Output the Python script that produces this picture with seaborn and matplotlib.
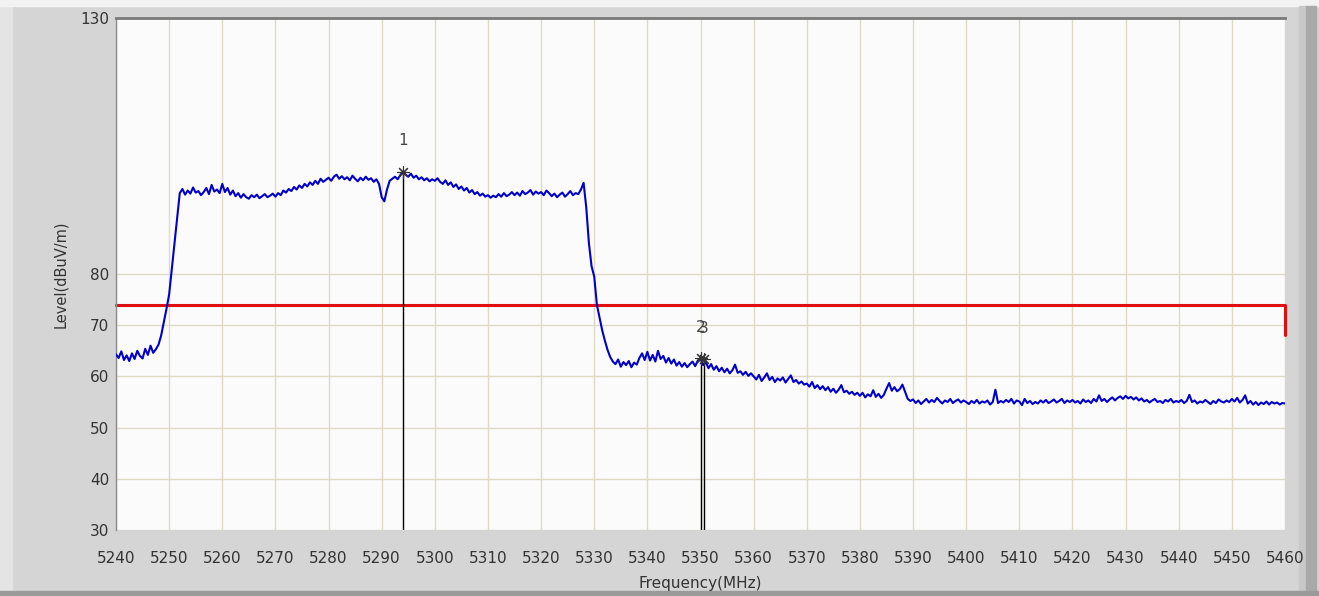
import numpy as np
import pandas as pd
import matplotlib.pyplot as plt
from matplotlib.patches import Rectangle
import seaborn as sns

# sweep: 5240 .. 5460 MHz, one reading every 0.5 MHz
freq_start = 5240.0
freq_step = 0.5

level = [
    # 5240 - 5249.5
    64.3, 63.6, 64.9, 63.2, 64.1, 63.0, 64.5, 63.4, 65.0, 64.0, 63.5, 65.4, 64.2, 66.0, 64.6, 65.3, 66.2, 68.0, 70.6, 73.2,
    # 5250 - 5259.5
    76.0, 81.0, 86.0, 91.0, 95.8, 96.6, 95.5, 96.3, 95.7, 96.9, 95.9, 96.2, 95.4, 96.0, 96.8, 95.6, 97.4, 96.1, 96.5, 95.8,
    # 5260 - 5269.5
    97.6, 96.0, 96.8, 95.5, 96.3, 95.2, 95.8, 94.9, 95.6, 95.0, 94.7, 95.4, 95.0, 95.5, 94.8, 95.2, 95.6, 95.0, 95.3, 95.7,
    # 5270 - 5279.5
    95.1, 95.8, 95.4, 96.3, 95.9, 96.6, 96.2, 97.0, 96.5, 97.3, 96.8, 97.6, 97.1, 97.9, 97.4, 98.2, 97.6, 98.6, 98.0, 98.4,
    # 5280 - 5289.5
    98.8, 98.2, 99.0, 99.4, 98.6, 99.1, 98.5, 98.9, 98.3, 99.2, 98.6, 98.1, 98.8, 98.3, 99.0, 98.4, 98.7, 98.0, 98.5, 97.6,
    # 5290 - 5299.5
    95.0, 94.2, 96.5, 98.2, 98.6, 99.0, 98.5, 99.3, 100.0, 99.4, 99.0, 99.6, 98.8, 99.2, 98.5, 98.9, 98.3, 98.7, 98.1, 98.5,
    # 5300 - 5309.5
    98.2, 98.7, 98.0, 97.6, 98.3, 97.4, 97.9, 97.0, 97.5, 96.6, 97.1, 96.3, 96.8, 95.9, 96.4, 95.6, 96.0, 95.3, 95.7, 95.1,
    # 5310 - 5319.5
    95.4, 94.9, 95.3, 95.0, 95.6, 95.1, 95.8, 95.2, 95.5, 96.0, 95.4, 95.9, 95.3, 96.2, 95.6, 95.9, 96.4, 95.5, 96.1, 95.7,
    # 5320 - 5329.5
    96.0, 95.4, 96.3, 95.8, 95.2, 95.7, 95.0, 95.5, 95.9, 95.1, 95.6, 96.2, 95.4, 95.8, 95.6, 96.5, 97.8, 93.0, 86.0, 81.5,
    # 5330 - 5339.5
    79.5, 74.0, 71.5, 69.0, 67.0, 65.2, 63.8, 62.9, 62.4, 63.3, 61.9, 62.8, 62.2, 63.0, 61.8, 62.7, 62.3, 63.6, 64.5, 63.2,
    # 5340 - 5349.5
    64.8, 63.1, 64.2, 62.9, 65.0, 63.4, 64.0, 62.7, 63.6, 62.5, 63.3, 62.1, 62.8, 61.9, 62.6, 61.8, 62.4, 62.9, 62.0, 63.1,
    # 5350 - 5359.5
    63.6, 62.2, 62.8, 61.6, 62.4, 61.3, 62.0, 61.0, 61.7, 60.8, 61.5, 60.6, 61.2, 62.3, 60.7, 61.0, 60.3, 60.9, 60.1, 60.6,
    # 5360 - 5369.5
    60.0, 59.4, 60.3, 59.1, 59.8, 60.6, 59.3, 59.9, 58.9, 59.6, 59.2, 59.8, 58.8, 59.5, 60.2, 58.9, 59.3, 58.6, 59.0, 58.4,
    # 5370 - 5379.5
    58.6, 58.0, 58.9, 57.7, 58.3, 57.5, 58.1, 57.3, 57.9, 57.0, 57.6, 56.8, 57.4, 58.3, 56.9, 57.2, 56.6, 57.0, 56.4, 56.8,
    # 5380 - 5389.5
    56.2, 56.8, 55.9, 56.5, 56.1, 57.3, 56.0, 56.6, 55.8, 56.4, 57.6, 58.7, 57.2, 57.9, 57.1, 57.5, 58.4, 57.0, 55.6, 55.2,
    # 5390 - 5399.5
    55.5, 54.8, 55.3, 54.6, 55.1, 55.6, 54.9, 55.4, 55.0, 55.8, 55.2, 54.7, 55.3, 55.0, 55.6, 54.8, 55.2, 55.5, 54.9, 55.3,
    # 5400 - 5409.5
    55.0, 54.6, 55.2, 54.8, 55.4, 54.7, 55.1, 54.9, 55.3, 54.5, 55.0, 57.4, 54.8, 55.2, 54.9, 55.4, 55.0, 55.6, 54.7, 55.3,
    # 5410 - 5419.5
    55.1, 54.4, 55.6, 54.8, 55.2, 54.6, 55.0, 54.7, 55.3, 54.9, 55.4, 54.8, 55.1, 55.5, 54.9, 55.2, 55.6, 54.8, 55.3, 55.0,
    # 5420 - 5429.5
    55.4, 54.9, 55.2, 54.7, 55.5, 55.0, 55.3, 54.8, 55.6, 55.1, 56.3, 55.2, 55.6, 55.0, 55.5, 55.9, 55.3, 55.8, 56.1, 55.6,
    # 5430 - 5439.5
    56.2, 55.7, 56.0, 55.5, 55.9, 55.3, 55.7, 55.1, 55.4, 54.9, 55.3, 55.6, 55.0, 55.2, 54.8, 55.4, 55.1, 55.6, 54.9, 55.2,
    # 5440 - 5449.5
    55.0, 55.4, 54.8, 55.2, 56.4, 55.0, 55.3, 54.7, 55.1, 54.9, 55.4, 55.0, 54.6, 55.2, 54.8, 55.5, 55.1, 54.9, 55.3, 55.0,
    # 5450 - 5459.5
    55.6, 55.1, 55.8, 54.9, 55.4, 56.3, 54.7, 55.2, 54.5, 55.0, 54.4, 54.9, 54.6, 55.1, 54.5, 55.0, 54.7, 54.9, 54.5, 54.8,
    # 5460
    54.7,
]

limit_freq = [5240, 5460, 5460]
limit_level = [74, 74, 68]

marker_names = ["1", "2", "3"]
marker_freq = [5294.0, 5350.0, 5350.6]
marker_level = [100.0, 63.6, 63.4]

x_ticks = list(range(5240, 5461, 10))
y_ticks = [30, 40, 50, 60, 70, 80, 130]

freq = freq_start + freq_step * np.arange(len(level))
df = pd.DataFrame({"freq": freq, "level": level})

sns.set_style("white")
plt.rcParams["font.family"] = ["DejaVu Sans"]

W, H = 1319, 596
fig = plt.figure(figsize=(W / 100, H / 100), dpi=100)
fig.patch.set_facecolor("#d5d5d5")

# window frame bits
frame = [
    ((0, 0), 12, H, "#e4e4e4"),
    ((0, H - 6), W, 6, "#f2f2f2"),
    ((1299, 0), 7, H - 6, "#c8c8c8"),
    ((1306, 0), 10, H - 6, "#a9a9a9"),
    ((0, 0), W, 5, "#9a9a9a"),
]
for (x0, y0), w, h, c in frame:
    fig.patches.append(Rectangle((x0 / W, y0 / H), w / W, h / H,
                                 transform=fig.transFigure, color=c, zorder=-5))

ax = fig.add_axes([116 / W, 66 / H, (1285 - 116) / W, (530 - 18) / H])
ax.set_facecolor("#fbfbfb")

sns.lineplot(data=df, x="freq", y="level", color="#0000c8", linewidth=1.5,
             sort=False, estimator=None, ax=ax, zorder=3)
sns.lineplot(x=limit_freq, y=limit_level, color="#e01010", linewidth=2.2,
             sort=False, estimator=None, ax=ax, zorder=2)
ax.lines[-1].set_clip_on(False)

for name, mf, ml in zip(marker_names, marker_freq, marker_level):
    ax.plot([mf, mf], [30, ml], color="black", linewidth=1.0, zorder=4)
    ax.plot(mf, ml, marker=(8, 2, 0), markersize=9, color="#333333", markeredgewidth=0.8, zorder=5)
    ax.text(mf, ml + 6, name, ha="center", va="center", fontsize=11, color="#444444", zorder=5)

ax.set_xlim(5240, 5460)
ax.set_ylim(30, 130)
ax.set_xticks(x_ticks)
ax.set_yticks(y_ticks)
ax.grid(True, color="#dedac6", linewidth=1.0, zorder=0)
ax.set_axisbelow(True)
ax.tick_params(length=0, labelsize=11, labelcolor="#333333")
ax.tick_params(axis="x", pad=15)
ax.tick_params(axis="y", pad=5)

ax.set_xlabel("Frequency(MHz)", fontsize=11, color="#333333", labelpad=7)
ax.set_ylabel("Level(dBuV/m)", fontsize=10.5, color="#333333")
ax.yaxis.set_label_coords(-0.041, 0.5)

for side in ["right", "bottom"]:
    ax.spines[side].set_visible(False)
ax.spines["left"].set_color("#8c8c8c")
ax.spines["left"].set_linewidth(1.0)
ax.spines["top"].set_color("#7a7a7a")
ax.spines["top"].set_linewidth(2.0)

fig.savefig("out.png", dpi=100, facecolor=fig.get_facecolor())
